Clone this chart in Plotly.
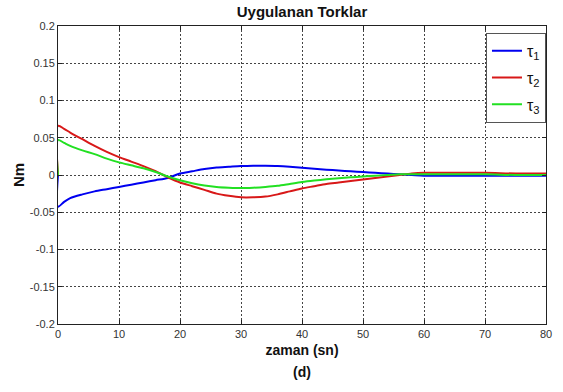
import plotly.graph_objects as go

# Sample times (s) and the applied joint torques (Nm)
t = [0, 0, 1, 2, 4, 6, 8, 10, 12, 14, 16, 18, 20, 22, 24, 26, 28, 30, 32, 34,
     36, 38, 40, 42, 44, 46, 48, 50, 52, 54, 56, 58, 60, 65, 70, 75, 80]

tau1 = [0, -0.0425, -0.036, -0.031, -0.026, -0.022, -0.019, -0.016, -0.013, -0.010,
        -0.007, -0.004, 0.002, 0.005, 0.008, 0.010, 0.011, 0.012, 0.0125, 0.0125,
        0.0122, 0.0112, 0.0098, 0.0085, 0.0072, 0.006, 0.005, 0.004, 0.003, 0.002,
        0.001, 0.0, -0.001, -0.001, -0.001, -0.001, -0.001]

tau2 = [0, 0.066, 0.062, 0.057, 0.048, 0.039, 0.031, 0.024, 0.018, 0.012,
        0.005, -0.003, -0.010, -0.015, -0.020, -0.025, -0.028, -0.030, -0.030, -0.029,
        -0.026, -0.022, -0.018, -0.015, -0.012, -0.010, -0.008, -0.006, -0.004, -0.002,
        0.0, 0.002, 0.003, 0.003, 0.003, 0.002, 0.002]

tau3 = [0, 0.047, 0.043, 0.039, 0.033, 0.028, 0.022, 0.017, 0.013, 0.009,
        0.004, -0.002, -0.007, -0.011, -0.014, -0.016, -0.017, -0.0175, -0.017, -0.016,
        -0.0145, -0.012, -0.0095, -0.0075, -0.0058, -0.0044, -0.003, -0.002, -0.001, 0.0,
        0.001, 0.001, 0.001, 0.001, 0.001, 0.0, 0.0]

x_ticks = [0, 10, 20, 30, 40, 50, 60, 70, 80]
y_ticks = [-0.2, -0.15, -0.1, -0.05, 0, 0.05, 0.1, 0.15, 0.2]
y_tick_text = ["-0.2", "-0.15", "-0.1", "-0.05", "0", "0.05", "0.1", "0.15", "0.2"]

series = [
    ("τ<sub>1</sub>", tau1, "#0000F0"),
    ("τ<sub>2</sub>", tau2, "#D81818"),
    ("τ<sub>3</sub>", tau3, "#22E022"),
]

FONT = "Liberation Sans, Arial, sans-serif"

fig = go.Figure()
for i, (name, vals, color) in enumerate(series):
    fig.add_trace(go.Scatter(
        x=t, y=vals, mode="lines", name=name, legendgroup=f"g{i}",
        line=dict(color=color, width=2, shape="spline", smoothing=0.8),
    ))

axis_common = dict(
    showline=True, linecolor="#222", linewidth=1, mirror="ticks",
    ticks="inside", ticklen=4, tickcolor="#222",
    showgrid=True, gridcolor="#444", gridwidth=1, griddash="2px,2px",
    zeroline=False, automargin=False,
    tickfont=dict(family=FONT, size=11, color="#333"),
)

fig.update_layout(
    width=563, height=392, autosize=False,
    margin=dict(l=58, r=17, t=26, b=68),
    paper_bgcolor="white", plot_bgcolor="white",
    font=dict(family=FONT, color="#111"),
    title=dict(text="<b>Uygulanan Torklar</b>", x=0.5, xref="paper",
               y=1 - 12 / 392, yref="container", yanchor="middle",
               font=dict(family=FONT, size=15, color="#111")),
    xaxis=dict(range=[0, 80], tickvals=x_ticks, **axis_common,
               title=dict(text="<b>zaman (sn)</b>", standoff=5,
                          font=dict(family=FONT, size=14, color="#111"))),
    yaxis=dict(range=[-0.2, 0.2], tickvals=y_ticks, ticktext=y_tick_text, **axis_common,
               title=dict(text="<b>Nm</b>", standoff=1,
                          font=dict(family=FONT, size=15, color="#111"))),
    legend=dict(x=0.877, y=0.977, xanchor="left", yanchor="top",
                bgcolor="white", bordercolor="#555", borderwidth=1,
                font=dict(family=FONT, size=16, color="#111"),
                itemwidth=30, tracegroupgap=3),
    annotations=[dict(text="<b>(d)</b>", xref="paper", yref="paper",
                      x=0.5, y=-48 / 298, xanchor="center", yanchor="middle",
                      showarrow=False, font=dict(family=FONT, size=14, color="#111"))],
    showlegend=True,
)

fig.write_html("out.html")
